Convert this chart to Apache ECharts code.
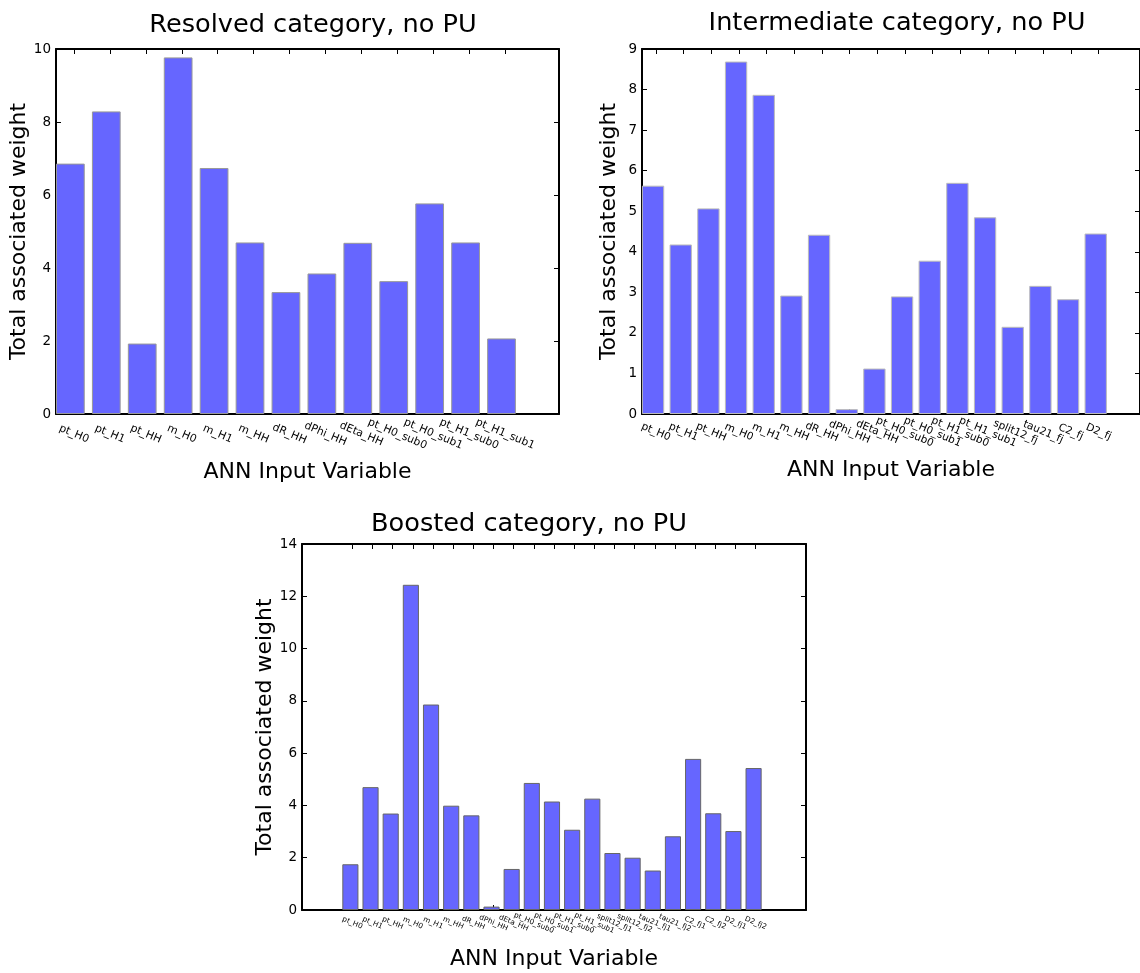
<!DOCTYPE html>
<html>
<head>
<meta charset="utf-8">
<script src="https://cdn.jsdelivr.net/npm/echarts@6/dist/echarts.min.js"></script>
<style>
  html, body { margin: 0; padding: 0; background: #fff; }
  #chart { width: 1140px; height: 973px; }
</style>
</head>
<body>
<div id="chart"></div>
<script>
const resolvedLabels = ['pt_H0','pt_H1','pt_HH','m_H0','m_H1','m_HH','dR_HH','dPhi_HH','dEta_HH','pt_H0_sub0','pt_H0_sub1','pt_H1_sub0','pt_H1_sub1'];
const resolvedValues = [6.86, 8.29, 1.93, 9.77, 6.74, 4.70, 3.34, 3.85, 4.69, 3.64, 5.77, 4.70, 2.07];

const intermediateLabels = ['pt_H0','pt_H1','pt_HH','m_H0','m_H1','m_HH','dR_HH','dPhi_HH','dEta_HH','pt_H0_sub0','pt_H0_sub1','pt_H1_sub0','pt_H1_sub1','split12_fj','tau21_fj','C2_fj','D2_fj'];
const intermediateValues = [5.63, 4.18, 5.07, 8.69, 7.87, 2.92, 4.42, 0.12, 1.12, 2.90, 3.78, 5.70, 4.85, 2.15, 3.16, 2.83, 4.45];

const boostedLabels = ['pt_H0','pt_H1','pt_HH','m_H0','m_H1','m_HH','dR_HH','dPhi_HH','dEta_HH','pt_H0_sub0','pt_H0_sub1','pt_H1_sub0','pt_H1_sub1','split12_fj1','split12_fj2','tau21_fj1','tau21_fj2','C2_fj1','C2_fj2','D2_fj1','D2_fj2'];
const boostedValues = [1.75, 4.70, 3.69, 12.44, 7.86, 3.99, 3.62, 0.13, 1.57, 4.86, 4.15, 3.07, 4.26, 2.18, 2.00, 1.51, 2.82, 5.78, 3.70, 3.02, 5.43];

const FONT = 'DejaVu Sans';
const W = 1140, H = 973;

const panels = [
  { title: 'Resolved category, no PU', labels: resolvedLabels, values: resolvedValues,
    left: 56, top: 49, right: 559, bottom: 414, slots: 14, offset: 0, ymax: 10, yint: 2,
    titleX: 308, titleTop: 7, xFont: 10.8, xMargin: 20, xNameGap: 47, yNameGap: 25, border: '#999' },
  { title: 'Intermediate category, no PU', labels: intermediateLabels, values: intermediateValues,
    left: 642, top: 49, right: 1144, bottom: 414, slots: 18, offset: 0, ymax: 9, yint: 1,
    titleX: 892, titleTop: 5, xFont: 10.5, xMargin: 18, xNameGap: 45, yNameGap: 22, border: '#bbb' },
  { title: 'Boosted category, no PU', labels: boostedLabels, values: boostedValues,
    left: 302, top: 544, right: 806, bottom: 910, slots: 25, offset: 2, ymax: 14, yint: 2,
    titleX: 524, titleTop: 506, xFont: 7.3, xMargin: 13, xNameGap: 38, yNameGap: 23, border: '#666' }
];

const grid = [], xAxis = [], yAxis = [], series = [], title = [];
const black = '#000';

panels.forEach((p, gi) => {
  grid.push({ left: p.left, top: p.top, width: p.right - p.left, height: p.bottom - p.top, containLabel: false });
  const centers = p.labels.map((_, i) => p.offset + i + 0.5);
  const nameOf = v => p.labels[Math.round(v - p.offset - 0.5)] || '';
  xAxis.push({
    type: 'value', gridIndex: gi, position: 'bottom', min: 0, max: p.slots,
    name: 'ANN Input Variable', nameLocation: 'middle', nameGap: p.xNameGap,
    nameTextStyle: { fontFamily: FONT, fontSize: 22, color: black },
    axisLine: { show: true, onZero: false, lineStyle: { color: black, width: 2 } },
    axisTick: { show: true, inside: true, length: 5, customValues: centers, lineStyle: { color: black, width: 1 } },
    axisLabel: { show: true, customValues: centers, formatter: nameOf, rotate: -23, align: 'center', verticalAlign: 'middle',
      margin: p.xMargin, fontFamily: FONT, fontSize: p.xFont, color: black },
    splitLine: { show: false }
  });
  xAxis.push({
    type: 'value', gridIndex: gi, position: 'top', min: 0, max: p.slots,
    axisLine: { show: true, onZero: false, lineStyle: { color: black, width: 2 } },
    axisTick: { show: true, inside: true, length: 5, customValues: centers, lineStyle: { color: black, width: 1 } },
    axisLabel: { show: false }, splitLine: { show: false }
  });
  yAxis.push({
    type: 'value', gridIndex: gi, position: 'left', min: 0, max: p.ymax, interval: p.yint,
    name: 'Total associated weight', nameLocation: 'middle', nameGap: p.yNameGap, nameRotate: 90,
    nameTextStyle: { fontFamily: FONT, fontSize: 22, color: black },
    axisLine: { show: true, onZero: false, lineStyle: { color: black, width: 2 } },
    axisTick: { show: true, inside: true, length: 5, lineStyle: { color: black, width: 1 } },
    axisLabel: { show: true, margin: 5, fontFamily: FONT, fontSize: 13.5, color: black },
    splitLine: { show: false }
  });
  yAxis.push({
    type: 'value', gridIndex: gi, position: 'right', min: 0, max: p.ymax, interval: p.yint,
    axisLine: { show: true, onZero: false, lineStyle: { color: black, width: 2 } },
    axisTick: { show: true, inside: true, length: 5, lineStyle: { color: black, width: 1 } },
    axisLabel: { show: false }, splitLine: { show: false }
  });
  const gridW = p.right - p.left;
  series.push({
    type: 'bar', xAxisIndex: gi * 2, yAxisIndex: gi * 2,
    data: p.values.map((v, i) => [p.offset + i + 0.4, v]),
    barWidth: 0.8 * gridW / p.slots,
    itemStyle: { color: '#6666ff', borderColor: p.border, borderWidth: 1 },
    silent: true, animation: false
  });
  title.push({
    text: p.title, left: p.titleX, top: p.titleTop, textAlign: 'center',
    textStyle: { fontFamily: FONT, fontSize: 25.6, fontWeight: 'normal', color: black }
  });
});

const chart = echarts.init(document.getElementById('chart'), null, { renderer: 'canvas', width: W, height: H });
chart.setOption({ backgroundColor: '#fff', animation: false, title, grid, xAxis, yAxis, series });
</script>
</body>
</html>
